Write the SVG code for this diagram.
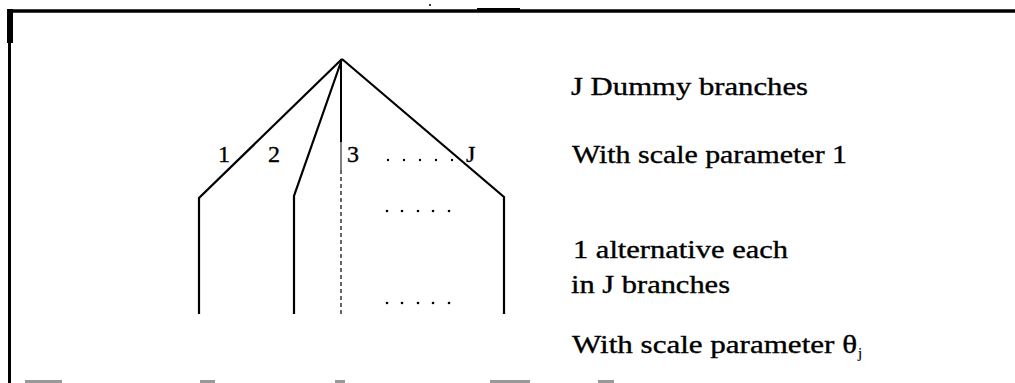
<svg xmlns="http://www.w3.org/2000/svg" width="1015" height="383" viewBox="0 0 1015 383">
<style>
.t{font-family:"Liberation Serif","Times New Roman",serif;font-size:25px;fill:#000;stroke:#000;stroke-width:0.35}
.n{font-family:"Liberation Serif","Times New Roman",serif;font-size:24px;fill:#000;stroke:#000;stroke-width:0.35}
.br{fill:none;stroke:#000;stroke-width:2.2;stroke-linejoin:miter}
.dot{fill:#000}
</style>
<rect width="1015" height="383" fill="#fff"/>
<g id="frame">
<line x1="8" y1="11" x2="1015" y2="11" stroke="#000" stroke-width="3.5"/>
<line x1="9.5" y1="10" x2="9.5" y2="383" stroke="#000" stroke-width="3"/>
<rect x="7" y="9" width="6" height="34" fill="#000"/>
<rect x="477" y="8" width="43" height="3" fill="#000"/>
<circle cx="430" cy="5" r="1" fill="#000"/>
<path d="M25 381.5H62M200 381.5H215M335 381.5H345M490 381.5H530M598 381.5H614" stroke="#999" stroke-width="3"/>
</g>
<g id="connectors">
<path class="br" d="M342 59 L199 198 V314"/>
<path class="br" d="M342 59 L294 196 V314"/>
<path class="br" d="M342 59 L504 197 V314"/>
<line x1="341" y1="59" x2="341" y2="142" stroke="#000" stroke-width="2"/>
<line x1="341" y1="142" x2="341" y2="170" stroke="#000" stroke-width="1"/>
<line x1="341" y1="170" x2="341" y2="314" stroke="#000" stroke-width="1.2" stroke-dasharray="4 3"/>
</g>
<g id="branch-labels">
<text class="n" x="218" y="162">1</text>
<text class="n" x="268" y="162">2</text>
<text class="n" x="347" y="162">3</text>
<text class="n" x="466" y="162">J</text>
<g class="dot">
<circle cx="388" cy="160" r="1.2"/><circle cx="404" cy="160" r="1.2"/><circle cx="420" cy="160" r="1.2"/><circle cx="436" cy="160" r="1.2"/><circle cx="452" cy="160" r="1.2"/>
</g>
</g>
<g id="dots-mid" class="dot">
<circle cx="387" cy="211" r="1.3"/><circle cx="402" cy="211" r="1.3"/><circle cx="418" cy="211" r="1.3"/><circle cx="433" cy="211" r="1.3"/><circle cx="449" cy="211" r="1.3"/>
</g>
<g id="dots-low" class="dot">
<circle cx="387" cy="303" r="1.3"/><circle cx="402" cy="303" r="1.3"/><circle cx="418" cy="303" r="1.3"/><circle cx="433" cy="303" r="1.3"/><circle cx="449" cy="303" r="1.3"/>
</g>
<g id="desc-upper">
<text class="t" x="571" y="95" textLength="237" lengthAdjust="spacingAndGlyphs">J Dummy branches</text>
<text class="t" x="572" y="163" textLength="275" lengthAdjust="spacingAndGlyphs">With scale parameter 1</text>
</g>
<g id="desc-lower">
<text class="t" x="573" y="258" textLength="215" lengthAdjust="spacingAndGlyphs">1 alternative each</text>
<text class="t" x="571" y="293" textLength="159" lengthAdjust="spacingAndGlyphs">in J branches</text>
<text class="t" x="572" y="353" textLength="285" lengthAdjust="spacingAndGlyphs">With scale parameter θ</text>
<text class="t" x="858" y="358" style="font-size:15px;stroke-width:0.2">j</text>
</g>
</svg>
